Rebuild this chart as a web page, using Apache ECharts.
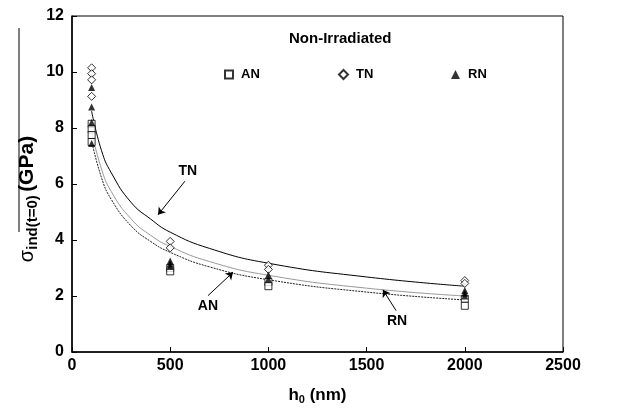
<!DOCTYPE html>
<html>
<head>
<meta charset="utf-8">
<script src="https://cdn.jsdelivr.net/npm/echarts@6/dist/echarts.min.js"></script>
<style>
html, body { margin: 0; padding: 0; background: #fff; }
#chart { width: 643px; height: 410px; }
</style>
</head>
<body>
<div id="chart"></div>
<script>
// measured points (h0 in nm, stress in GPa)
var anPoints = [[100, 8.15], [100, 7.95], [100, 7.75], [100, 7.5],
	[500, 3.0], [500, 2.88], [1000, 2.5], [1000, 2.35], [2000, 1.9], [2000, 1.65]];
var tnPoints = [[100, 10.15], [100, 9.94], [100, 9.72], [100, 9.13],
	[500, 3.95], [500, 3.72], [1000, 3.1], [1000, 2.95], [2000, 2.55], [2000, 2.45]];
var rnPoints = [[100, 9.45], [100, 8.75], [100, 8.2], [100, 7.45],
	[500, 3.25], [500, 3.15], [500, 3.05], [1000, 2.75], [1000, 2.6], [2000, 2.2], [2000, 2.1], [2000, 2.0]];

// fitted curves
var fitX = [100, 150, 200, 300, 400, 500, 700, 1000, 1500, 2000];
var tnFit = [8.6, 7.2, 6.4, 5.35, 4.75, 4.28, 3.7, 3.17, 2.68, 2.35];
var rnFit = [7.87, 6.54, 5.73, 4.76, 4.17, 3.77, 3.23, 2.74, 2.28, 2.0];
var anFit = [7.55, 6.23, 5.45, 4.51, 3.95, 3.56, 3.04, 2.58, 2.14, 1.86];

var xTicks = [0, 500, 1000, 1500, 2000, 2500];
var yTicks = [0, 2, 4, 6, 8, 10, 12];

function pairs(xs, ys) {
	var out = [];
	for (var i = 0; i < xs.length; i++) out.push([xs[i], ys[i]]);
	return out;
}

var font = 'Arial, "Liberation Sans", sans-serif';
var myChart = echarts.init(document.getElementById('chart'));

function arrow(from, to) {
	return [{ coord: from }, { coord: to }];
}

option = {
	animation: false,
	backgroundColor: '#fff',
	title: {
		text: 'Non-Irradiated',
		left: 284,
		top: 26,
		textStyle: { fontFamily: font, fontSize: 15, fontWeight: 'bold', color: '#000' }
	},
	legend: [{
		data: ['AN'], left: 219, top: 63, itemWidth: 8, itemHeight: 8, itemGap: 8,
		textStyle: { fontFamily: font, fontSize: 13, fontWeight: 'bold', color: '#000', padding: [0, 0, 0, 3] }
	}, {
		data: ['TN'], left: 333, top: 63, itemWidth: 9, itemHeight: 9,
		textStyle: { fontFamily: font, fontSize: 13, fontWeight: 'bold', color: '#000', padding: [0, 0, 0, 3] }
	}, {
		data: ['RN'], left: 446, top: 63, itemWidth: 9, itemHeight: 9,
		textStyle: { fontFamily: font, fontSize: 13, fontWeight: 'bold', color: '#000', padding: [0, 0, 0, 3] }
	}],
	grid: {
		left: 72, right: 80, top: 16, bottom: 56,
		show: true, borderColor: '#000', borderWidth: 1
	},
	xAxis: {
		type: 'value', min: xTicks[0], max: xTicks[xTicks.length - 1], interval: 500,
		name: '{b|h}{s|0}{b| (nm)}',
		nameLocation: 'middle', nameGap: 34,
		nameTextStyle: {
			rich: {
				b: { fontFamily: font, fontSize: 17, fontWeight: 'bold', color: '#000' },
				s: { fontFamily: font, fontSize: 11, fontWeight: 'bold', color: '#000', padding: [8, 0, 0, 0] }
			}
		},
		axisLine: { lineStyle: { color: '#000', width: 1.5 } },
		axisTick: { inside: true, length: 5, lineStyle: { color: '#000' } },
		splitLine: { show: false },
		axisLabel: {
			margin: 6, fontFamily: font, fontSize: 16, fontWeight: 'bold', color: '#000',
			formatter: function (v) { return String(v); }
		}
	},
	yAxis: {
		type: 'value', min: yTicks[0], max: yTicks[yTicks.length - 1], interval: 2,
		axisLine: { lineStyle: { color: '#000', width: 1.5 } },
		axisTick: { inside: true, length: 5, lineStyle: { color: '#000' } },
		splitLine: { show: false },
		axisLabel: { margin: 8, fontFamily: font, fontSize: 16, fontWeight: 'bold', color: '#000' }
	},
	graphic: [{
		type: 'text',
		x: 27, y: 199, rotation: Math.PI / 2,
		style: {
			text: '{s|σ}{sub|ind(t=0)} {b|(GPa)}',
			align: 'center', verticalAlign: 'middle',
			rich: {
				s: { fontFamily: font, fontSize: 20, color: '#000' },
				sub: { fontFamily: font, fontSize: 15, fontWeight: 'bold', color: '#000', padding: [12, 0, 0, 0] },
				b: { fontFamily: font, fontSize: 21, fontWeight: 'bold', color: '#000' }
			}
		}
	}, {
		type: 'line',
		shape: { x1: 19, y1: 28, x2: 19, y2: 232 },
		style: { stroke: '#000', lineWidth: 1 }
	}],
	series: [{
		name: 'TN fit', type: 'line', data: pairs(fitX, tnFit), smooth: true, showSymbol: false,
		lineStyle: { color: '#000', width: 1 }, z: 1,
		markLine: {
			silent: true, symbol: ['none', 'arrow'], symbolSize: 7,
			lineStyle: { color: '#000', width: 1, type: 'solid' },
			label: { show: false },
			data: [arrow([575, 6.1], [438, 4.9]), arrow([692, 2.01], [820, 2.85]), arrow([1650, 1.48], [1583, 2.22])]
		},
		markPoint: {
			symbol: 'circle', symbolSize: 1, itemStyle: { color: 'transparent' },
			label: { show: true, position: 'inside', fontFamily: font, fontSize: 14, fontWeight: 'bold', color: '#000', formatter: '{b}' },
			data: [{ name: 'TN', coord: [590, 6.46] }, { name: 'AN', coord: [692, 1.62] }, { name: 'RN', coord: [1655, 1.1] }]
		}
	}, {
		name: 'RN fit', type: 'line', data: pairs(fitX, rnFit), smooth: true, showSymbol: false,
		lineStyle: { color: '#999', width: 1 }, z: 1
	}, {
		name: 'AN fit', type: 'line', data: pairs(fitX, anFit), smooth: true, showSymbol: false,
		lineStyle: { color: '#222', width: 1, type: [2, 1] }, z: 1
	}, {
		name: 'AN', type: 'scatter', data: anPoints, symbol: 'rect', symbolSize: 7,
		itemStyle: { color: '#fff', borderColor: '#000', borderWidth: 1 }, z: 3
	}, {
		name: 'TN', type: 'scatter', data: tnPoints, symbol: 'diamond', symbolSize: 8,
		itemStyle: { color: '#fff', borderColor: '#000', borderWidth: 1 }, z: 3
	}, {
		name: 'RN', type: 'scatter', data: rnPoints, symbol: 'triangle', symbolSize: 7,
		itemStyle: { color: '#000' }, z: 4
	}]
};
myChart.setOption(option);
</script>
</body>
</html>
